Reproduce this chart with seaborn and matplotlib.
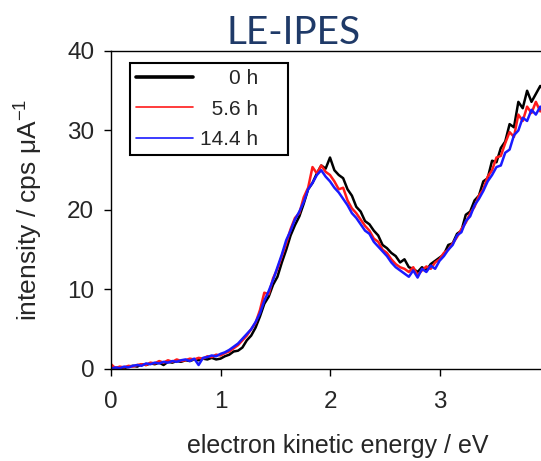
import numpy as np
import pandas as pd
import matplotlib
matplotlib.use('Agg')
import matplotlib.pyplot as plt
import seaborn as sns

# electron kinetic energy grid (eV), step 0.04
energy = np.round(np.arange(0, 100) * 0.04, 2)

# 0 h
int_0h = [0.0, 0.1, 0.2, 0.1, 0.3, 0.4, 0.3, 0.6, 0.5, 0.7,
          0.6, 0.8, 0.5, 0.9, 0.8, 1.0, 0.9, 1.1, 1.0, 1.2,
          1.1, 1.3, 1.2, 1.4, 1.2, 1.3, 1.6, 1.8, 2.2, 2.3,
          2.7, 3.6, 4.2, 5.2, 6.6, 8.2, 9.1, 10.6, 11.6, 13.4,
          15.0, 16.8, 18.1, 19.2, 20.8, 22.6, 23.4, 24.6, 25.6, 25.2,
          26.6, 25.0, 24.4, 24.0, 22.6, 21.8, 20.4, 19.8, 18.6, 18.2,
          17.4, 16.8, 15.6, 15.2, 14.6, 14.2, 13.4, 13.8, 12.8, 12.6,
          12.2, 12.8, 12.4, 13.2, 13.6, 14.0, 14.4, 15.6, 15.8, 17.0,
          17.4, 19.4, 19.8, 21.2, 21.8, 23.6, 24.0, 26.2, 26.0, 27.8,
          28.6, 30.8, 30.4, 33.6, 32.8, 35.0, 33.6, 34.6, 35.6, 35.0]

# 5.6 h
int_5h = [0.6, 0.1, 0.3, 0.2, 0.4, 0.3, 0.5, 0.6, 0.5, 0.8,
          0.7, 1.0, 0.8, 1.1, 0.9, 1.2, 1.0, 1.1, 1.3, 1.2,
          1.4, 1.3, 1.6, 1.5, 1.8, 1.7, 2.0, 2.2, 2.6, 3.0,
          3.6, 4.2, 5.0, 5.8, 7.4, 9.6, 9.4, 11.4, 12.6, 14.2,
          15.8, 17.6, 19.0, 19.6, 21.6, 22.8, 25.4, 24.6, 25.6, 24.8,
          24.4, 23.6, 22.6, 22.8, 21.2, 20.2, 19.6, 18.8, 18.0, 17.4,
          16.4, 16.0, 15.0, 14.6, 13.8, 13.2, 12.8, 12.6, 12.2, 12.8,
          11.8, 12.4, 12.9, 12.6, 13.4, 13.8, 14.6, 15.0, 15.8, 16.6,
          17.6, 18.4, 19.6, 20.4, 21.8, 22.6, 24.2, 25.0, 26.6, 26.8,
          28.4, 29.8, 29.2, 32.0, 31.2, 33.0, 32.2, 33.6, 32.4, 33.2]

# 14.4 h
int_14h = [0.0, 0.2, 0.1, 0.3, 0.2, 0.4, 0.5, 0.4, 0.7, 0.6,
           0.8, 0.7, 0.9, 0.8, 1.0, 0.9, 1.1, 1.2, 1.0, 1.3,
           0.5, 1.4, 1.5, 1.7, 1.6, 1.9, 2.1, 2.4, 2.8, 3.2,
           3.8, 4.4, 5.0, 5.9, 7.0, 8.6, 9.8, 11.2, 12.8, 14.4,
           16.2, 17.4, 18.8, 19.8, 21.0, 22.6, 23.4, 24.4, 25.0, 24.2,
           23.6, 22.8, 22.2, 21.4, 20.6, 19.6, 19.0, 18.2, 17.4, 17.0,
           16.0, 15.4, 14.8, 14.2, 13.4, 12.8, 12.4, 12.0, 11.6, 12.4,
           11.5, 12.6, 12.2, 13.0, 12.6, 13.6, 14.2, 15.0, 15.6, 16.8,
           17.2, 18.6, 19.2, 20.6, 21.4, 22.4, 23.6, 24.4, 25.4, 25.6,
           27.2, 27.6, 29.4, 30.0, 31.6, 31.2, 32.6, 32.0, 33.0, 31.8]

series_names = ['0 h', '5.6 h', '14.4 h']
# figure spaces so the labels line up on the right like the original
legend_labels = ['\u2007\u2007\u20080 h\u2007\u2007', '\u20075.6 h\u2007\u2007', '14.4 h\u2007\u2007']
colors = {'0 h': 'black', '5.6 h': '#ff1a1a', '14.4 h': '#1a1aff'}

df = pd.concat([
    pd.DataFrame({'energy': energy, 'intensity': vals, 'time': name})
    for name, vals in zip(series_names, [int_0h, int_5h, int_14h])
])

sns.set_style('ticks')
plt.rcParams['font.family'] = ['Liberation Sans', 'DejaVu Sans']
plt.rcParams['mathtext.fontset'] = 'custom'
plt.rcParams['mathtext.rm'] = 'Liberation Sans'

fig = plt.figure(figsize=(5.41, 4.61), dpi=100)
# axes run past the right edge of the picture, like the cropped original
ax = fig.add_axes([0.2052, 0.1996, 0.9108, 0.6898])

sns.lineplot(data=df, x='energy', y='intensity', hue='time', palette=colors,
             hue_order=series_names, estimator=None, sort=False, lw=1.8,
             legend=False, ax=ax)

ax.set_xlim(0, 4.5)
ax.set_ylim(0, 40)
ax.set_xticks([0, 1, 2, 3, 4])
ax.set_yticks([0, 10, 20, 30, 40])
ax.tick_params(axis='both', direction='out', length=5, width=1, labelsize=17.5, color='black')
ax.tick_params(axis='x', pad=11)
ax.tick_params(axis='y', pad=7)
for sp in ax.spines.values():
    sp.set_linewidth(1)
    sp.set_color('black')

ax.set_xlabel('electron kinetic energy / eV', fontsize=18)
ax.set_ylabel('intensity / cps μA$^{\\mathregular{-1}}$', fontsize=19)
ax.xaxis.set_label_coords(0.46, -0.205)
ax.yaxis.set_label_coords(-0.136, 0.5)

leg = ax.legend(ax.get_lines()[:3], legend_labels, loc='upper left',
                bbox_to_anchor=(130 / 541, 1 - 63 / 461), bbox_transform=fig.transFigure,
                borderaxespad=0, fontsize=15, handlelength=2.7, handletextpad=0.35,
                borderpad=0.3, labelspacing=0.55, fancybox=False, framealpha=1,
                edgecolor='black')
leg.get_frame().set_linewidth(1.5)
for i, ln in enumerate(leg.get_lines()):
    ln.set_linewidth(2.6 if i == 0 else 1.2)

fig.text(0.542, 1 - 44 / 461, 'LE-IPES', ha='center', va='baseline',
         color='#1f3a68', fontsize=28, family=['Lato', 'DejaVu Sans'])

fig.savefig('out.png', dpi=100)
